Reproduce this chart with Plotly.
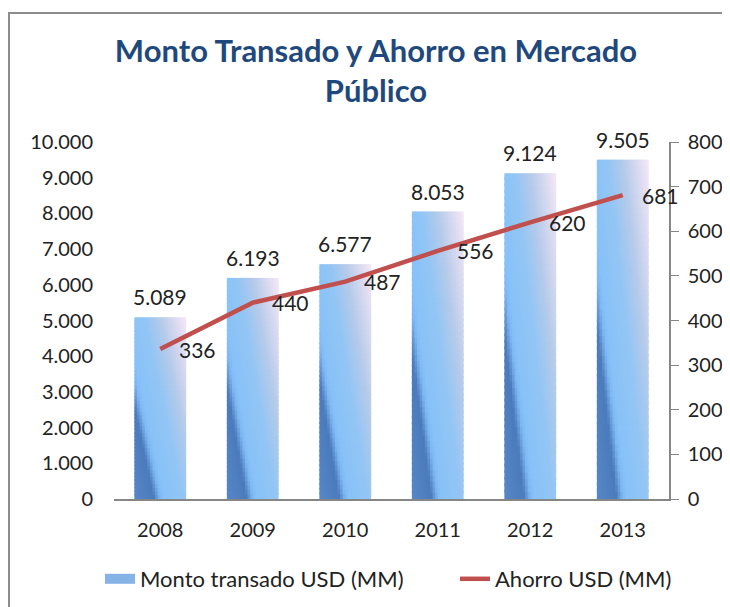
import plotly.graph_objects as go

years = ["2008", "2009", "2010", "2011", "2012", "2013"]
monto = [5089, 6193, 6577, 8053, 9124, 9505]
ahorro = [336, 440, 487, 556, 620, 681]
left_ticks = list(range(0, 10001, 1000))
right_ticks = list(range(0, 801, 100))

FONT = "Lato"
FS = 20
W = 0.56      # bar width in category units
NX, NY = 20, 50

# figure is drawn inside the page body (8px default body margin)
FW, FH = 722, 599
L, R, T, B = 106, 61, 134, 108
PW, PH = FW - L - R, FH - T - B


def hex2rgb(h):
    h = h.lstrip("#")
    return tuple(int(h[i:i + 2], 16) for i in (0, 2, 4))


stops = [
    (0.00, "#5787C6"),
    (0.30, "#4E7EBE"),
    (0.38, "#4B7BBB"),
    (0.50, "#7FB8F3"),
    (0.58, "#88C2F9"),
    (0.95, "#93C6F5"),
    (1.25, "#B5CBEA"),
    (1.75, "#F7E8F7"),
]


def grad(u):
    for (a, ca), (b, cb) in zip(stops[:-1], stops[1:]):
        if u <= b:
            t = (u - a) / (b - a) if b > a else 0
            ra, ga, ba = hex2rgb(ca)
            rb, gb, bb = hex2rgb(cb)
            return "rgb(%d,%d,%d)" % (ra + (rb - ra) * t, ga + (gb - ga) * t, ba + (bb - ba) * t)
    return stops[-1][1]


fig = go.Figure()

cw = W / NX
for j in range(NY):
    yf = (j + 0.5) / NY
    for i in range(NX):
        xf = (i + 0.5) / NX
        col = grad(xf + 0.75 * yf)
        wmul = 1.4 if i < NX - 1 else 1.0
        hmul = 1.4 if j < NY - 1 else 1.0
        fig.add_trace(go.Bar(
            x=years,
            y=[v / NY * hmul for v in monto],
            base=[v * j / NY for v in monto],
            offset=-W / 2 + i * cw,
            width=cw * wmul,
            marker=dict(color=col, line=dict(width=0)),
            showlegend=False,
            hoverinfo="skip",
            yaxis="y",
        ))

# legend entry for the bars (wide swatch like the reference)
fig.add_trace(go.Scatter(
    x=[None], y=[None], mode="lines",
    line=dict(color="#86B3E6", width=12),
    name="Monto transado USD (MM)", yaxis="y", legend="legend",
))

fig.add_trace(go.Scatter(
    x=years, y=ahorro, mode="lines",
    line=dict(color="#C0504D", width=4.5),
    name="Ahorro USD (MM)", yaxis="y2", legend="legend2",
))

annotations = []
for k, v in enumerate(monto):
    annotations.append(dict(
        x=k, y=v, xref="x", yref="y", text=f"{v:,}".replace(",", "."),
        showarrow=False, yanchor="bottom", yshift=6,
        font=dict(family=FONT, size=21, color="#222"),
    ))
for k, v in enumerate(ahorro):
    annotations.append(dict(
        x=k, y=v, xref="x", yref="y2", text=str(v),
        showarrow=False, xanchor="left", yanchor="middle", xshift=17,
        font=dict(family=FONT, size=21, color="#222"),
    ))

leg_y = (PH - (571 - T)) / PH
leg_font = dict(family=FONT, size=22, color="#222")

fig.update_layout(
    width=FW, height=FH,
    margin=dict(l=L, r=R, t=T, b=B, autoexpand=False),
    paper_bgcolor="white", plot_bgcolor="white",
    separators=",.",
    barmode="overlay",
    title=dict(
        text="<b>Monto Transado y Ahorro en Mercado<br>Público</b>",
        x=368 / FW, xanchor="center", y=1 - 54 / FH, yanchor="middle",
        font=dict(family=FONT, size=31, color="#1F497D"),
    ),
    font=dict(family=FONT, size=FS, color="#222"),
    xaxis=dict(
        type="category", range=[-0.5, len(years) - 0.5], autorange=False,
        showline=True, linecolor="#868686", linewidth=1.5,
        showgrid=False, ticks="", ticklabelstandoff=12, automargin=False,
        tickfont=dict(family=FONT, size=FS, color="#222"),
    ),
    yaxis=dict(
        range=[0, 10000], tickvals=left_ticks, tickformat=",d",
        showgrid=False, showline=False, zeroline=False, ticks="",
        ticklabelstandoff=20, automargin=False,
        tickfont=dict(family=FONT, size=FS, color="#222"),
    ),
    yaxis2=dict(
        range=[0, 800], tickvals=right_ticks, overlaying="y", side="right",
        showgrid=False, showline=True, linecolor="#868686", linewidth=1.5,
        ticks="outside", ticklen=8, tickcolor="#868686", zeroline=False,
        ticklabelstandoff=5, automargin=False,
        tickfont=dict(family=FONT, size=FS, color="#222"),
    ),
    legend=dict(
        orientation="h", x=(92 - L) / PW, xanchor="left",
        y=leg_y, yanchor="middle", font=leg_font, bgcolor="rgba(0,0,0,0)",
    ),
    legend2=dict(
        orientation="h", x=(447 - L) / PW, xanchor="left",
        y=leg_y, yanchor="middle", font=leg_font, bgcolor="rgba(0,0,0,0)",
    ),
    annotations=annotations,
    shapes=[dict(
        type="rect", xref="paper", yref="paper",
        x0=(1 - L) / PW, x1=1.3, y0=-0.5, y1=(PH + T - 5) / PH,
        line=dict(color="#8C8C8C", width=2), fillcolor="rgba(0,0,0,0)", layer="below",
    )],
)

fig.write_html("out.html")
